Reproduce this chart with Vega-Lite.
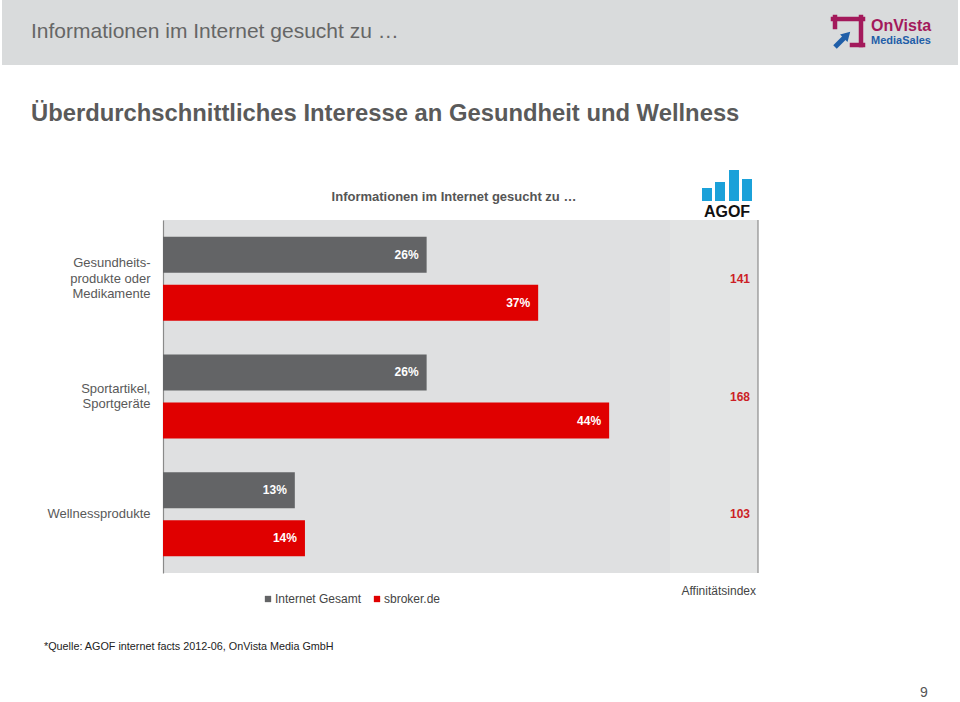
{
  "$schema": "https://vega.github.io/schema/vega-lite/v6.json",
  "width": 595,
  "height": 353,
  "autosize": {"type": "none"},
  "padding": {"left": 163, "top": 220, "right": 202, "bottom": 129},
  "background": "white",
  "config": {
    "font": "Liberation Sans",
    "view": {"fill": "#dfe0e1", "stroke": null}
  },
  "datasets": {
    "bars": [
      {"cat": "Gesundheits-|produkte oder|Medikamente", "group": "Internet Gesamt", "value": 26, "label": "26%"},
      {"cat": "Gesundheits-|produkte oder|Medikamente", "group": "sbroker.de", "value": 37, "label": "37%"},
      {"cat": "Sportartikel,|Sportgeräte", "group": "Internet Gesamt", "value": 26, "label": "26%"},
      {"cat": "Sportartikel,|Sportgeräte", "group": "sbroker.de", "value": 44, "label": "44%"},
      {"cat": "Wellnessprodukte", "group": "Internet Gesamt", "value": 13, "label": "13%"},
      {"cat": "Wellnessprodukte", "group": "sbroker.de", "value": 14, "label": "14%"}
    ],
    "affinity": [
      {"cat": "Gesundheits-|produkte oder|Medikamente", "index": 141},
      {"cat": "Sportartikel,|Sportgeräte", "index": 168},
      {"cat": "Wellnessprodukte", "index": 103}
    ]
  },
  "layer": [
    {
      "data": {"values": [{}]},
      "mark": {"type": "rect", "color": "#d9dbdc"},
      "encoding": {
        "x": {"value": -161}, "x2": {"value": 795},
        "y": {"value": -220}, "y2": {"value": -155}
      }
    },
    {
      "data": {"values": [{"t": "Informationen im Internet gesucht zu …"}]},
      "mark": {"type": "text", "align": "left", "baseline": "middle", "fontSize": 21, "color": "#666666"},
      "encoding": {"x": {"value": -132}, "y": {"value": -188}, "text": {"field": "t"}}
    },
    {
      "data": {"values": [{"t": "Überdurchschnittliches Interesse an Gesundheit und Wellness"}]},
      "mark": {"type": "text", "align": "left", "baseline": "middle", "fontSize": 23.8, "fontWeight": "bold", "color": "#5a5a5a"},
      "encoding": {"x": {"value": -132}, "y": {"value": -106}, "text": {"field": "t"}}
    },
    {
      "data": {"values": [{"t": "Informationen im Internet gesucht zu …"}]},
      "mark": {"type": "text", "align": "center", "baseline": "middle", "fontSize": 13, "fontWeight": "bold", "color": "#555555"},
      "encoding": {"x": {"value": 291}, "y": {"value": -23}, "text": {"field": "t"}}
    },
    {
      "data": {"values": [
        {"x1": 670, "x2": 700, "y1": -201, "y2": -201},
        {"x1": 672, "x2": 672, "y1": -203, "y2": -193},
        {"x1": 698, "x2": 698, "y1": -203, "y2": -175},
        {"x1": 689, "x2": 700, "y1": -175, "y2": -175}
      ]},
      "mark": {"type": "rule", "color": "#a3195b", "strokeWidth": 4.5, "strokeCap": "square"},
      "encoding": {
        "x": {"field": "x1", "type": "quantitative", "scale": null},
        "x2": {"field": "x2"},
        "y": {"field": "y1", "type": "quantitative", "scale": null},
        "y2": {"field": "y2"}
      }
    },
    {
      "data": {"values": [{}]},
      "mark": {"type": "rule", "color": "#1f5ea8", "strokeWidth": 5},
      "encoding": {"x": {"value": 672}, "x2": {"value": 682}, "y": {"value": -173}, "y2": {"value": -183}}
    },
    {
      "data": {"values": [{}]},
      "mark": {"type": "point", "shape": "triangle-up", "angle": 45, "filled": true, "opacity": 1, "color": "#1f5ea8", "size": 110},
      "encoding": {"x": {"value": 684}, "y": {"value": -185}}
    },
    {
      "data": {"values": [{"t": "OnVista"}]},
      "mark": {"type": "text", "align": "left", "baseline": "middle", "fontSize": 16, "fontWeight": "bold", "color": "#a3195b"},
      "encoding": {"x": {"value": 708}, "y": {"value": -194}, "text": {"field": "t"}}
    },
    {
      "data": {"values": [{"t": "MediaSales"}]},
      "mark": {"type": "text", "align": "left", "baseline": "middle", "fontSize": 11, "fontWeight": "bold", "color": "#1f5ea8"},
      "encoding": {"x": {"value": 708}, "y": {"value": -179}, "text": {"field": "t"}}
    },
    {
      "data": {"values": [
        {"x1": 539, "x2": 549, "y1": -32},
        {"x1": 552, "x2": 562, "y1": -38},
        {"x1": 566, "x2": 576, "y1": -50},
        {"x1": 579, "x2": 589, "y1": -41}
      ]},
      "mark": {"type": "rect", "color": "#1ba1d9"},
      "encoding": {
        "x": {"field": "x1", "type": "quantitative", "scale": null},
        "x2": {"field": "x2"},
        "y": {"field": "y1", "type": "quantitative", "scale": null},
        "y2": {"value": -19}
      }
    },
    {
      "data": {"values": [{"t": "AGOF"}]},
      "mark": {"type": "text", "align": "center", "baseline": "alphabetic", "fontSize": 16, "fontWeight": "bold", "color": "#111111"},
      "encoding": {"x": {"value": 564}, "y": {"value": -3}, "text": {"field": "t"}}
    },
    {
      "data": {"values": [{"a": 50, "b": 58.68}]},
      "mark": {"type": "rect", "color": "#e3e4e4"},
      "encoding": {
        "x": {"field": "a", "type": "quantitative", "scale": {"domain": [0, 58.68], "nice": false}, "axis": null},
        "x2": {"field": "b"}
      }
    },
    {
      "data": {"values": [{"b": 58.68}]},
      "mark": {"type": "rule", "color": "#8c8c8c", "strokeWidth": 1.2},
      "encoding": {"x": {"field": "b", "type": "quantitative"}}
    },
    {
      "data": {"name": "bars"},
      "mark": {"type": "bar"},
      "encoding": {
        "y": {
          "field": "cat", "type": "nominal", "sort": null,
          "scale": {"paddingInner": 0.286, "paddingOuter": 0.143},
          "axis": {
            "title": null, "ticks": false, "domain": true, "domainColor": "#8a8a8a", "domainWidth": 1.2,
            "labelFontSize": 13, "labelColor": "#595959", "labelPadding": 13, "labelLineHeight": 15.5,
            "labelExpr": "split(datum.label, '|')", "labelFont": "Liberation Sans", "labelLimit": 200,
            "labelOffset": {
              "condition": [
                {"test": "indexof(datum.value, 'Gesundheits') >= 0", "value": -15.5},
                {"test": "indexof(datum.value, 'Sportartikel') >= 0", "value": -8}
              ],
              "value": 0
            }
          }
        },
        "yOffset": {"field": "group", "type": "nominal", "sort": null, "scale": {"paddingInner": 0.25, "paddingOuter": 0}},
        "x": {"field": "value", "type": "quantitative"},
        "color": {
          "field": "group", "type": "nominal",
          "scale": {"domain": ["Internet Gesamt", "sbroker.de"], "range": ["#636466", "#e00000"]},
          "legend": {
            "orient": "none", "legendX": 99, "legendY": 373, "direction": "horizontal", "title": null,
            "symbolType": "square", "symbolSize": 40, "symbolStrokeWidth": 0,
            "labelFontSize": 12, "labelColor": "#444444", "labelFont": "Liberation Sans",
            "labelOffset": 1, "columnPadding": 9
          }
        }
      }
    },
    {
      "data": {"name": "bars"},
      "mark": {"type": "text", "align": "right", "baseline": "middle", "dx": -8, "fontSize": 12, "fontWeight": "bold", "color": "white"},
      "encoding": {
        "y": {"field": "cat", "type": "nominal", "sort": null},
        "yOffset": {"field": "group", "type": "nominal", "sort": null},
        "x": {"field": "value", "type": "quantitative"},
        "text": {"field": "label"}
      }
    },
    {
      "data": {"name": "affinity"},
      "mark": {"type": "text", "align": "right", "baseline": "middle", "dx": -8, "fontSize": 12, "fontWeight": "bold", "color": "#cc1f26"},
      "encoding": {
        "y": {"field": "cat", "type": "nominal", "sort": null},
        "x": {"datum": 58.68, "type": "quantitative"},
        "text": {"field": "index"}
      }
    },
    {
      "data": {"values": [{"t": "Affinitätsindex"}]},
      "mark": {"type": "text", "align": "right", "baseline": "middle", "dx": -2, "fontSize": 12, "color": "#444444"},
      "encoding": {"x": {"datum": 58.68, "type": "quantitative"}, "y": {"value": 371}, "text": {"field": "t"}}
    },
    {
      "data": {"values": [{"t": "*Quelle: AGOF internet facts 2012-06, OnVista Media GmbH"}]},
      "mark": {"type": "text", "align": "left", "baseline": "middle", "fontSize": 10.8, "color": "#222222"},
      "encoding": {"x": {"value": -119}, "y": {"value": 427}, "text": {"field": "t"}}
    },
    {
      "data": {"values": [{"t": "9"}]},
      "mark": {"type": "text", "align": "center", "baseline": "middle", "fontSize": 14, "color": "#555555"},
      "encoding": {"x": {"value": 761}, "y": {"value": 473}, "text": {"field": "t"}}
    }
  ]
}
